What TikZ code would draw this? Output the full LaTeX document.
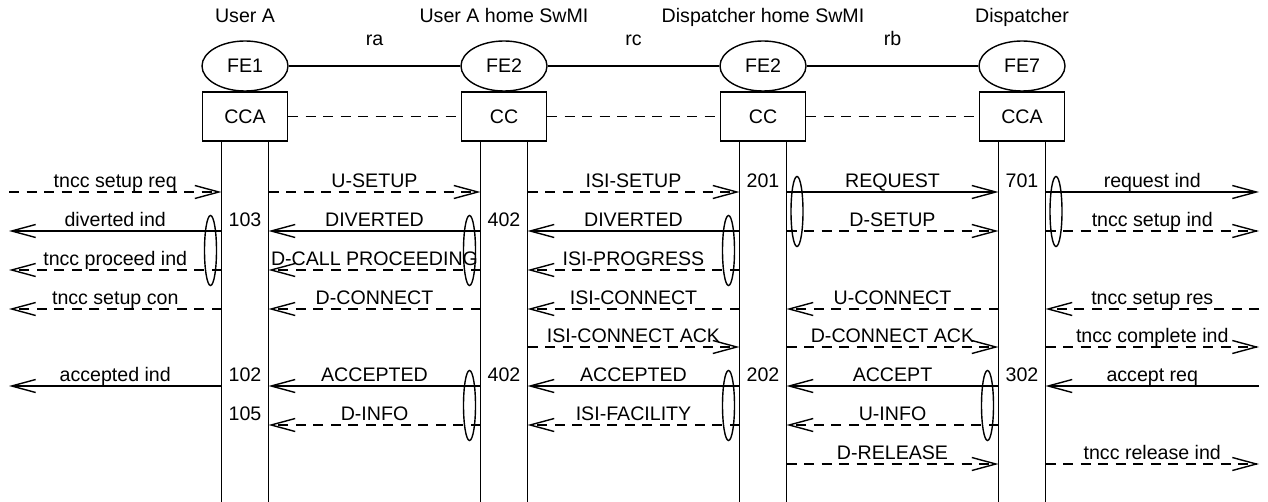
\documentclass[tikz,border=0pt]{standalone}
\usepackage{fontspec}
\setmainfont{Liberation Sans}
\usetikzlibrary{arrows.meta,shapes.geometric}

\tikzset{
  fe/.style={draw, ellipse, minimum width=43pt, minimum height=25pt, inner sep=0pt},
  ccbox/.style={draw, rectangle, minimum width=42.5pt, minimum height=24.5pt, inner sep=0pt},
  msg/.style={-{Straight Barb[length=12pt,width=6.5pt]}},
  dsh/.style={dash pattern=on 5pt off 3.75pt},
  lbl/.style={above=2pt, inner sep=0pt, text depth=0pt},
  grp/.style={draw, ellipse, minimum width=6pt, minimum height=35pt, inner sep=0pt},
}

\begin{document}
\begin{tikzpicture}[x=0.5pt, y=-0.5pt, line width=0.7pt, font=\fontsize{9.8}{11}\selectfont]
    \useasboundingbox (0,0) rectangle (1268,502);

    \coordinate (bot) at (0,502);
    \coordinate (eL) at (9,0);
    \coordinate (eR) at (1259,0);
    \foreach \r/\y in {1/192,2/231,3/270,4/309,5/347,6/386,7/425,8/464}
        \coordinate (r\r) at (0,\y);

    % entities
    \foreach \n/\x/\fe/\cc/\hd in {A/245/FE1/CCA/User A, B/504/FE2/CC/User A home SwMI,
                                   C/763/FE2/CC/Dispatcher home SwMI, D/1022/FE7/CCA/Dispatcher} {
        \node[anchor=base] (hd\n) at (\x,23) {\hd};
        \node[fe] (fe\n) at (\x,66) {\fe};
        \node[ccbox] (box\n) at (\x,116.5) {\cc};
        \coordinate (\n-l) at ({\x-23.5},141);
        \coordinate (\n-r) at ({\x+23.5},141);
        \draw (\n-l) -- (\n-l |- bot);
        \draw (\n-r) -- (\n-r |- bot);
    }

    \draw (feA) -- node[lbl, above=8pt] {ra} (feB);
    \draw (feB) -- node[lbl, above=8pt] {rc} (feC);
    \draw (feC) -- node[lbl, above=8pt] {rb} (feD);

    \draw[dsh] (boxA) -- (boxB);
    \draw[dsh] (boxB) -- (boxC);
    \draw[dsh] (boxC) -- (boxD);

    % messages
    \foreach \s/\t/\r/\k/\m in {
        eL/A-l/1/dsh/tncc setup req, A-r/B-l/1/dsh/U-SETUP, B-r/C-l/1/dsh/ISI-SETUP,
        C-r/D-l/1/solid/REQUEST, D-r/eR/1/solid/request ind,
        A-l/eL/2/solid/diverted ind, B-l/A-r/2/solid/DIVERTED, C-l/B-r/2/solid/DIVERTED,
        C-r/D-l/2/dsh/D-SETUP, D-r/eR/2/dsh/tncc setup ind,
        A-l/eL/3/dsh/tncc proceed ind, B-l/A-r/3/dsh/D-CALL PROCEEDING, C-l/B-r/3/dsh/ISI-PROGRESS,
        A-l/eL/4/dsh/tncc setup con, B-l/A-r/4/dsh/D-CONNECT, C-l/B-r/4/dsh/ISI-CONNECT,
        D-l/C-r/4/dsh/U-CONNECT, eR/D-r/4/dsh/tncc setup res,
        B-r/C-l/5/dsh/ISI-CONNECT ACK, C-r/D-l/5/dsh/D-CONNECT ACK, D-r/eR/5/dsh/tncc complete ind,
        A-l/eL/6/solid/accepted ind, B-l/A-r/6/solid/ACCEPTED, C-l/B-r/6/solid/ACCEPTED,
        D-l/C-r/6/solid/ACCEPT, eR/D-r/6/solid/accept req,
        B-l/A-r/7/dsh/D-INFO, C-l/B-r/7/dsh/ISI-FACILITY, D-l/C-r/7/dsh/U-INFO,
        C-r/D-l/8/dsh/D-RELEASE, D-r/eR/8/dsh/tncc release ind}
        \draw[msg,\k] (\s |- r\r) -- node[lbl] {\m} (\t |- r\r);

    % step numbers
    \foreach \n/\r/\t in {A/2/103, B/2/402, C/1/201, D/1/701, A/6/102,
                          B/6/402, C/6/202, D/6/302, A/7/105}
        \node[lbl] (num\t\n) at (box\n |- r\r) {\t};

    % grouping ovals
    \foreach \o/\x/\y in {1/210.5/250.5, 2/469.5/250.5, 3/728.5/250.5, 4/797/211.5,
                          5/1056/211.5, 6/469.5/405.5, 7/728.5/405.5, 8/987.5/405.5}
        \node[grp] (grp\o) at (\x,\y) {};
\end{tikzpicture}
\end{document}
